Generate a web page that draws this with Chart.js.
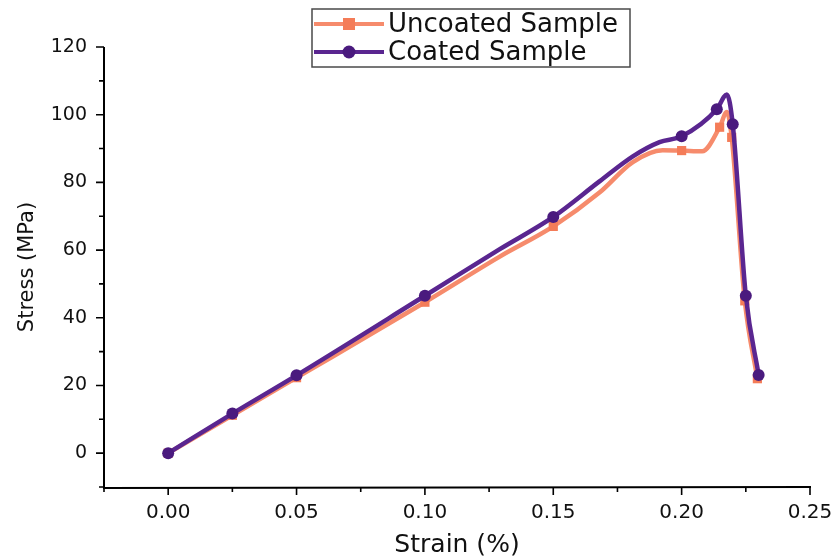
<!DOCTYPE html>
<html>
<head>
<meta charset="utf-8">
<script src="https://cdn.jsdelivr.net/npm/chart.js@4/dist/chart.umd.min.js"></script>
<style>
  html, body { margin: 0; padding: 0; background: #ffffff; }
  #wrap { width: 835px; height: 558px; position: relative; }
</style>
</head>
<body>
<div id="wrap"><canvas id="c" width="835" height="558"></canvas></div>
<script>
// ---- data ----
const seriesNames = ['Uncoated Sample', 'Coated Sample'];

const uncoatedStrain = [0, 0.025, 0.05, 0.1, 0.129, 0.15, 0.168, 0.181, 0.1926, 0.2, 0.208, 0.2148, 0.2176, 0.2195, 0.2246, 0.2295];
const uncoatedStress = [0, 11.2, 22.3, 44.6, 58.0, 67.0, 77.0, 86.0, 89.5, 89.4, 89.2, 96.3, 100.8, 93.3, 45.0, 22.0];
const uncoatedMarkerStrain = [0, 0.025, 0.05, 0.1, 0.15, 0.2, 0.2148, 0.2195, 0.2246, 0.2295];

const coatedStrain = [0, 0.025, 0.05, 0.1, 0.129, 0.15, 0.168, 0.181, 0.1914, 0.2, 0.2137, 0.2176, 0.2199, 0.225, 0.23];
const coatedStress = [0, 11.7, 23.0, 46.5, 60.2, 69.8, 80.3, 87.7, 91.9, 93.6, 101.6, 106.0, 97.2, 46.5, 23.1];
const coatedMarkerStrain = [0, 0.025, 0.05, 0.1, 0.15, 0.2, 0.2137, 0.2199, 0.225, 0.23];

const xTickValues = [0, 0.05, 0.10, 0.15, 0.20, 0.25];
const xMinorValues = [-0.025, 0.025, 0.075, 0.125, 0.175, 0.225];
const yTickValues = [0, 20, 40, 60, 80, 100, 120];
const yMinorValues = [-10, 10, 30, 50, 70, 90, 110];
const xTitle = 'Strain (%)';
const yTitle = 'Stress (MPa)';

// ---- styling ----
const ORANGE = '#F68B6C';
const ORANGE_MK = '#F47C58';
const PURPLE = '#5A2690';
const PURPLE_MK = '#4A1A7E';
const TXT = '#111111';
const FONT = "'DejaVu Sans', sans-serif";

const toPts = (xs, ys) => xs.map((x, i) => ({ x: x, y: ys[i] }));
const markerRadius = (list, r) => (ctx) => {
  const p = ctx.raw;
  if (!p) return 0;
  return list.some(v => Math.abs(v - p.x) < 1e-9) ? r : 0;
};

const axesPlugin = {
  id: 'axesPlugin',
  afterDatasetsDraw(chart) {
    const { ctx, chartArea: a, scales } = chart;
    const xs = scales.x, ys = scales.y;
    ctx.save();
    ctx.strokeStyle = '#000';
    ctx.lineWidth = 2;
    ctx.lineCap = 'butt';
    ctx.beginPath();
    ctx.moveTo(a.left, a.top);
    ctx.lineTo(a.left, a.bottom + 1);
    ctx.lineTo(a.right + 1, a.bottom);
    ctx.stroke();
    ctx.lineWidth = 1.6;
    ctx.beginPath();
    xTickValues.forEach(v => { const px = xs.getPixelForValue(v); ctx.moveTo(px, a.bottom); ctx.lineTo(px, a.bottom + 8); });
    xMinorValues.forEach(v => { const px = xs.getPixelForValue(v); ctx.moveTo(px, a.bottom); ctx.lineTo(px, a.bottom + 5); });
    yTickValues.forEach(v => { const py = ys.getPixelForValue(v); ctx.moveTo(a.left, py); ctx.lineTo(a.left - 8, py); });
    yMinorValues.forEach(v => { const py = ys.getPixelForValue(v); ctx.moveTo(a.left, py); ctx.lineTo(a.left - 5, py); });
    ctx.stroke();
    ctx.restore();
  },
  afterDraw(chart) {
    const ctx = chart.ctx;
    ctx.save();
    // legend box
    ctx.fillStyle = '#ffffff';
    ctx.fillRect(312, 9, 318, 58);
    ctx.strokeStyle = '#4a4a4a';
    ctx.lineWidth = 1.5;
    ctx.strokeRect(312, 9, 318, 58);
    const rows = [
      { y: 24, color: ORANGE, mk: ORANGE_MK, shape: 'sq', label: seriesNames[0] },
      { y: 52, color: PURPLE, mk: PURPLE_MK, shape: 'circ', label: seriesNames[1] }
    ];
    rows.forEach(r => {
      ctx.strokeStyle = r.color;
      ctx.lineWidth = 4;
      ctx.beginPath();
      ctx.moveTo(314, r.y);
      ctx.lineTo(384, r.y);
      ctx.stroke();
      ctx.fillStyle = r.mk;
      if (r.shape === 'sq') {
        ctx.fillRect(349 - 6, r.y - 6, 12, 12);
      } else {
        ctx.beginPath();
        ctx.arc(349, r.y, 6.5, 0, Math.PI * 2);
        ctx.fill();
      }
      ctx.fillStyle = TXT;
      ctx.font = "26px " + FONT;
      ctx.textBaseline = 'middle';
      ctx.textAlign = 'left';
      ctx.fillText(r.label, 388, r.y + 1);
    });
    ctx.restore();
  }
};

new Chart(document.getElementById('c'), {
  type: 'line',
  data: {
    datasets: [
      {
        label: seriesNames[1],
        data: toPts(coatedStrain, coatedStress),
        borderColor: PURPLE,
        backgroundColor: PURPLE_MK,
        borderWidth: 4.5,
        pointStyle: 'circle',
        pointRadius: markerRadius(coatedMarkerStrain, 6),
        pointBorderWidth: 0,
        pointBackgroundColor: PURPLE_MK,
        cubicInterpolationMode: 'monotone',
        fill: false,
        order: 0
      },
      {
        label: seriesNames[0],
        data: toPts(uncoatedStrain, uncoatedStress),
        borderColor: ORANGE,
        backgroundColor: ORANGE_MK,
        borderWidth: 4.5,
        pointStyle: 'rect',
        pointRadius: markerRadius(uncoatedMarkerStrain, 6.5),
        pointBorderWidth: 0,
        pointBackgroundColor: ORANGE_MK,
        cubicInterpolationMode: 'monotone',
        fill: false,
        order: 1
      }
    ]
  },
  options: {
    responsive: false,
    animation: false,
    devicePixelRatio: 1,
    layout: { padding: { left: 0, top: 47, right: 25, bottom: 0 } },
    plugins: {
      legend: { display: false },
      tooltip: { enabled: false }
    },
    scales: {
      x: {
        type: 'linear',
        min: -0.025,
        max: 0.25,
        grid: { display: false },
        border: { display: false },
        afterBuildTicks: (s) => { s.ticks = xTickValues.map(v => ({ value: v })); },
        afterFit: (s) => { s.height = 71; s.paddingRight = 0; s.paddingLeft = 0; },
        ticks: {
          autoSkip: false,
          maxRotation: 0,
          padding: 6,
          color: TXT,
          font: { family: FONT, size: 20 },
          callback: (v) => Number(v).toFixed(2)
        },
        title: {
          display: true,
          text: xTitle,
          color: TXT,
          font: { family: FONT, size: 25, lineHeight: 1 },
          padding: { top: 0, bottom: 0 }
        }
      },
      y: {
        type: 'linear',
        min: -10,
        max: 120,
        grid: { display: false },
        border: { display: false },
        afterBuildTicks: (s) => { s.ticks = yTickValues.map(v => ({ value: v })); },
        afterFit: (s) => { s.width = 104; s.paddingTop = 0; s.paddingBottom = 0; },
        ticks: {
          autoSkip: false,
          padding: 9,
          color: TXT,
          font: { family: FONT, size: 19 },
          callback: (v) => String(v)
        },
        title: {
          display: true,
          text: yTitle,
          color: TXT,
          font: { family: FONT, size: 21, lineHeight: 1.2 },
          padding: { top: 15, bottom: 0 }
        }
      }
    }
  },
  plugins: [axesPlugin]
});
</script>
</body>
</html>
